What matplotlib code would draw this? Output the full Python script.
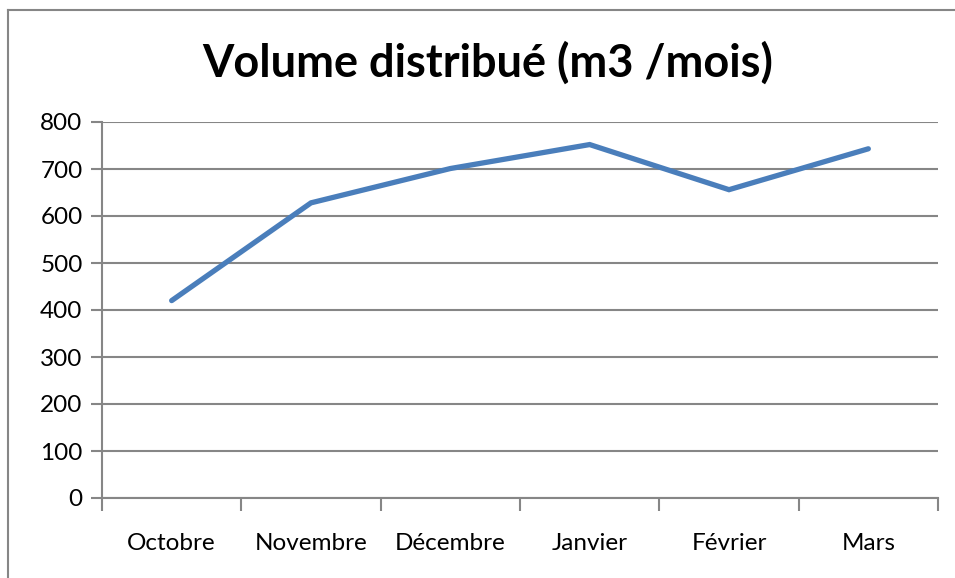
import matplotlib
matplotlib.use("Agg")
import matplotlib.pyplot as plt
from matplotlib.lines import Line2D
import numpy as np

# données
mois = ["Octobre", "Novembre", "Décembre", "Janvier", "Février", "Mars"]
volume = [420, 628, 701, 752, 656, 743]
graduations = [0, 100, 200, 300, 400, 500, 600, 700, 800]

plt.rcParams['font.family'] = ['Lato', 'DejaVu Sans']

W, H = 955, 578
fig = plt.figure(figsize=(W / 100, H / 100), dpi=100)

# axes: gauche 102px, droite 938px, haut 122px, bas 498px
ax = fig.add_axes([102 / W, 1 - 498 / H, (938 - 102) / W, (498 - 122) / H])

x = np.arange(len(mois))
ax.plot(x, volume, color='#4a7ebb', linewidth=3.8, solid_capstyle='round',
        solid_joinstyle='miter', zorder=3)

ax.set_xlim(-0.5, len(mois) - 0.5)
ax.set_ylim(0, 800)
ax.set_yticks(graduations)
ax.set_xticks(x)
ax.set_xticklabels(mois)
ax.set_xticks(np.arange(len(mois) + 1) - 0.5, minor=True)

grid_col = '#868686'
ax.yaxis.grid(True, color=grid_col, linewidth=1.5)
ax.set_axisbelow(True)
for s in ['top', 'right']:
    ax.spines[s].set_visible(False)
for s in ['left', 'bottom']:
    ax.spines[s].set_color(grid_col)
    ax.spines[s].set_linewidth(1.5)

ax.tick_params(axis='x', which='major', length=0, pad=25, labelsize=17.5)
ax.tick_params(axis='x', which='minor', length=9, width=1.5, color=grid_col)
ax.tick_params(axis='y', length=8, width=1.5, color=grid_col, pad=6, labelsize=17.5)

fig.text(488 / W, 1 - 63 / H, "Volume distribué (m3 /mois)", ha='center',
         va='center', fontsize=32.5, fontweight='bold')

# cadre du graphique
fig.add_artist(Line2D([8 / W, 8 / W], [0, 1 - 10 / H], color=grid_col, linewidth=1.5))
fig.add_artist(Line2D([8 / W, 1], [1 - 10 / H, 1 - 10 / H], color=grid_col, linewidth=1.5))

fig.savefig("out.png", dpi=100)
